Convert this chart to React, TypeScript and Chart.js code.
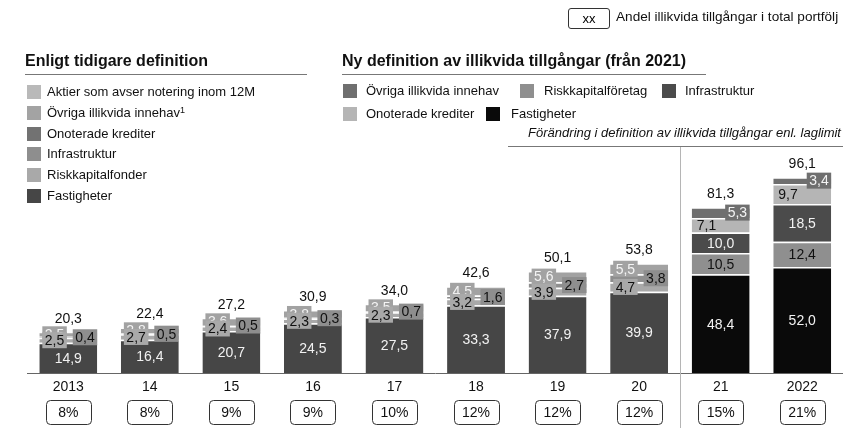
import React, { useEffect, useRef } from "react";
import { Chart, registerables } from "chart.js";

Chart.register(...registerables);

const FONT = "'Liberation Sans', Arial, sans-serif";

const years = ["2013", "14", "15", "16", "17", "18", "19", "20", "21", "2022"];
const totals = [20.3, 22.4, 27.2, 30.9, 34.0, 42.6, 50.1, 53.8, 81.3, 96.1];
const shares = ["8%", "8%", "9%", "9%", "10%", "12%", "12%", "12%", "15%", "21%"];

// Enligt tidigare definition (2013–2020)
const oldFastigheter = [14.9, 16.4, 20.7, 24.5, 27.5, 33.3, 37.9, 39.9, null, null];
const oldRiskkapital = [2.5, 2.7, 2.4, 2.3, 2.3, 3.2, 3.9, 4.7, null, null];
const oldInfrastruktur = [0.4, 0.5, 0.5, 0.3, 0.7, 1.6, 2.7, 3.8, null, null];
const oldOvriga = [2.5, 2.8, 3.6, 3.8, 3.5, 4.5, 5.6, 5.5, null, null];

// Ny definition (från 2021)
const newFastigheter = [null, null, null, null, null, null, null, null, 48.4, 52.0];
const newRiskkapital = [null, null, null, null, null, null, null, null, 10.5, 12.4];
const newInfrastruktur = [null, null, null, null, null, null, null, null, 10.0, 18.5];
const newOnoterade = [null, null, null, null, null, null, null, null, 7.1, 9.7];
const newOvriga = [null, null, null, null, null, null, null, null, 5.3, 3.4];

const oldLegend = [
  { label: "Aktier som avser notering inom 12M", color: "#b9b9b9" },
  { label: "Övriga illikvida innehav", color: "#a3a3a3", sup: "1" },
  { label: "Onoterade krediter", color: "#727272" },
  { label: "Infrastruktur", color: "#8e8e8e" },
  { label: "Riskkapitalfonder", color: "#a9a9a9" },
  { label: "Fastigheter", color: "#464646" },
];

type Seg = { pos: "center" | "leftbox" | "rightbox" | "lefttext"; text: string };
const segStyles: Seg[] = [
  { pos: "center", text: "#f2f2f2" },
  { pos: "leftbox", text: "#111111" },
  { pos: "rightbox", text: "#111111" },
  { pos: "leftbox", text: "#f4f4f4" },
  { pos: "center", text: "#f2f2f2" },
  { pos: "center", text: "#111111" },
  { pos: "center", text: "#f2f2f2" },
  { pos: "lefttext", text: "#111111" },
  { pos: "rightbox", text: "#f4f4f4" },
];
const labelOrder = [0, 3, 2, 1, 4, 5, 6, 7, 8];

const fmt = (v: number) => v.toFixed(1).replace(".", ",");

const labelPlugin = {
  id: "segLabels",
  afterDatasetsDraw(chart: any) {
    const ctx = chart.ctx;
    const ys = chart.scales.y;
    ctx.save();
    ctx.font = `14px ${FONT}`;
    ctx.textBaseline = "middle";
    labelOrder.forEach((di) => {
      const meta = chart.getDatasetMeta(di);
      const ds = chart.data.datasets[di];
      const st = segStyles[di];
      meta.data.forEach((bar: any, i: number) => {
        const v = ds.data[i];
        if (v == null) return;
        const p = bar.getProps(["x", "y", "base", "width"], true);
        const cy = (p.y + p.base) / 2;
        const txt = fmt(v);
        const tw = ctx.measureText(txt).width;
        const left = p.x - p.width / 2;
        const right = p.x + p.width / 2;
        if (st.pos === "center") {
          ctx.fillStyle = st.text;
          ctx.textAlign = "center";
          ctx.fillText(txt, p.x, cy + 1);
        } else if (st.pos === "lefttext") {
          ctx.fillStyle = st.text;
          ctx.textAlign = "left";
          ctx.fillText(txt, left + 5, cy + 1);
        } else {
          const bw = tw + 5;
          const bh = 16;
          const bx = st.pos === "leftbox" ? left + 3 : right - bw;
          ctx.fillStyle = ds.backgroundColor;
          ctx.fillRect(bx, cy - bh / 2, bw, bh);
          ctx.fillStyle = st.text;
          ctx.textAlign = "center";
          ctx.fillText(txt, bx + bw / 2, cy + 1);
        }
      });
    });
    // totals
    ctx.fillStyle = "#111";
    ctx.textAlign = "center";
    totals.forEach((t, i) => {
      const x = chart.scales.x.getPixelForValue(i);
      const y = ys.getPixelForValue(t);
      ctx.fillText(fmt(t), x, y - 13);
    });
    ctx.restore();
  },
  afterDraw(chart: any) {
    const ctx = chart.ctx;
    const xs = chart.scales.x;
    const area = chart.chartArea;
    ctx.save();
    // separator
    const sx = Math.round((xs.getPixelForValue(7) + xs.getPixelForValue(8)) / 2) + 0.5;
    ctx.strokeStyle = "#b5b5b5";
    ctx.lineWidth = 1;
    ctx.beginPath();
    ctx.moveTo(sx, 146);
    ctx.lineTo(sx, 428);
    ctx.stroke();
    // share boxes
    ctx.font = `14px ${FONT}`;
    ctx.textAlign = "center";
    ctx.textBaseline = "middle";
    shares.forEach((s, i) => {
      const cx = xs.getPixelForValue(i);
      const w = 45, h = 24;
      const bx = Math.round(cx - w / 2) + 0.5;
      const by = Math.round(area.bottom) + 27.5;
      ctx.strokeStyle = "#333";
      ctx.beginPath();
      ctx.roundRect(bx, by, w, h, 4);
      ctx.stroke();
      ctx.fillStyle = "#111";
      ctx.fillText(s, cx, by + h / 2 + 1);
    });
    ctx.restore();
  },
};

const mk = (label: string, data: (number | null)[], color: string) => ({
  label,
  data,
  backgroundColor: color,
  borderColor: "#ffffff",
  borderWidth: { top: 1.5, left: 0, right: 0, bottom: 0 },
  borderSkipped: false,
  barPercentage: 0.71,
  categoryPercentage: 1.0,
});

export default function App() {
  const ref = useRef<HTMLCanvasElement>(null);
  useEffect(() => {
    if (!ref.current) return;
    const chart = new Chart(ref.current, {
      type: "bar",
      data: {
        labels: years,
        datasets: [
          mk("Fastigheter", oldFastigheter, "#464646"),
          mk("Riskkapitalfonder", oldRiskkapital, "#a9a9a9"),
          mk("Infrastruktur", oldInfrastruktur, "#8e8e8e"),
          mk("Övriga illikvida innehav", oldOvriga, "#a2a2a2"),
          mk("Fastigheter (ny)", newFastigheter, "#0a0a0a"),
          mk("Riskkapitalföretag", newRiskkapital, "#8f8f8f"),
          mk("Infrastruktur (ny)", newInfrastruktur, "#4b4b4b"),
          mk("Onoterade krediter", newOnoterade, "#b5b5b5"),
          mk("Övriga illikvida innehav (ny)", newOvriga, "#6f6f6f"),
        ] as any,
      },
      options: {
        responsive: false,
        animation: false,
        devicePixelRatio: 1,
        layout: { padding: { top: 169, bottom: 29, left: 27.5, right: 0 } },
        plugins: { legend: { display: false }, tooltip: { enabled: false } },
        scales: {
          x: {
            stacked: true,
            grid: { display: false, drawTicks: false },
            border: { display: true, color: "#666" },
            ticks: { color: "#111", font: { size: 14, family: FONT }, padding: 6, maxRotation: 0, autoSkip: false },
          },
          y: { stacked: true, display: false, min: 0, max: 100 },
        },
      } as any,
      plugins: [labelPlugin],
    });
    return () => chart.destroy();
  }, []);

  const txt: React.CSSProperties = { position: "absolute", fontFamily: FONT, fontSize: 13, color: "#111", whiteSpace: "nowrap", lineHeight: "16px" };
  const sw = (left: number, top: number, color: string): React.CSSProperties => ({ position: "absolute", left, top, width: 14, height: 14, background: color });

  return (
    <div style={{ position: "absolute", left: 0, top: 0, width: 843, height: 431, background: "#fff", overflow: "hidden" }}>
      <canvas ref={ref} width={843} height={431} style={{ position: "absolute", left: 0, top: 0 }} />
      {/* top key */}
      <div style={{ position: "absolute", left: 568, top: 8, width: 40, height: 19, border: "1px solid #333", borderRadius: 3, fontFamily: FONT, fontSize: 13, textAlign: "center", lineHeight: "19px" }}>xx</div>
      <div style={{ ...txt, left: 616, top: 9, fontSize: 13.6 }}>Andel illikvida tillgångar i total portfölj</div>
      {/* left section */}
      <div style={{ ...txt, left: 25, top: 51, fontSize: 16, fontWeight: "bold", lineHeight: "20px" }}>Enligt tidigare definition</div>
      <div style={{ position: "absolute", left: 25, top: 74, width: 282, height: 1, background: "#777" }} />
      {oldLegend.map((it, i) => (
        <React.Fragment key={it.label}>
          <div style={sw(27, 85 + i * 20.8, it.color)} />
          <div style={{ ...txt, left: 47, top: 84 + i * 20.8 }}>
            {it.label}
            {it.sup ? <sup style={{ fontSize: 9, verticalAlign: "top", lineHeight: "10px" }}>{it.sup}</sup> : null}
          </div>
        </React.Fragment>
      ))}
      {/* right section */}
      <div style={{ ...txt, left: 342, top: 51, fontSize: 16, fontWeight: "bold", lineHeight: "20px" }}>Ny definition av illikvida tillgångar (från 2021)</div>
      <div style={{ position: "absolute", left: 342, top: 74, width: 364, height: 1, background: "#777" }} />
      <div style={sw(343, 84, "#6f6f6f")} />
      <div style={{ ...txt, left: 366, top: 83 }}>Övriga illikvida innehav</div>
      <div style={sw(520, 84, "#8f8f8f")} />
      <div style={{ ...txt, left: 544, top: 83 }}>Riskkapitalföretag</div>
      <div style={sw(662, 84, "#4b4b4b")} />
      <div style={{ ...txt, left: 685, top: 83 }}>Infrastruktur</div>
      <div style={sw(343, 107, "#b5b5b5")} />
      <div style={{ ...txt, left: 366, top: 106 }}>Onoterade krediter</div>
      <div style={sw(486, 107, "#0a0a0a")} />
      <div style={{ ...txt, left: 511, top: 106 }}>Fastigheter</div>
      <div style={{ ...txt, right: 2, top: 125, fontStyle: "italic" }}>Förändring i definition av illikvida tillgångar enl. laglimit</div>
      <div style={{ position: "absolute", left: 508, top: 146, width: 335, height: 1, background: "#777" }} />
    </div>
  );
}
